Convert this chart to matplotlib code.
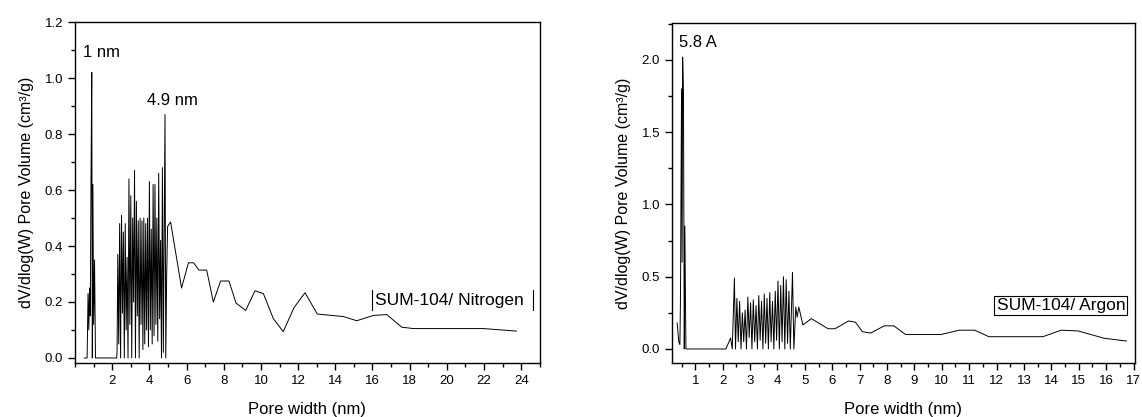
import matplotlib
matplotlib.use("Agg")
import matplotlib.pyplot as plt
from matplotlib.ticker import MultipleLocator, FixedLocator

plt.rcParams["font.family"] = ["Liberation Sans", "DejaVu Sans"]

# nitrogen curve (pore width nm, dV/dlogW)
n2_x = [0.50, 0.65, 0.70, 0.74, 0.78, 0.82, 0.86, 0.90, 0.93, 0.96, 1.00, 1.05, 1.10,
        2.24, 2.26, 2.30, 2.35, 2.40, 2.45, 2.50, 2.55, 2.60, 2.65, 2.70, 2.75, 2.80,
        2.85, 2.90, 2.95, 3.00, 3.05, 3.10, 3.15, 3.20, 3.25, 3.30, 3.35, 3.40, 3.45,
        3.50, 3.55, 3.60, 3.65, 3.70, 3.75, 3.80, 3.85, 3.90, 3.95, 4.00, 4.05, 4.10,
        4.15, 4.20, 4.25, 4.30, 4.35, 4.40, 4.45, 4.50, 4.55, 4.60, 4.65, 4.70, 4.75,
        4.84, 4.88, 4.93, 4.98, 5.14, 5.73, 6.10, 6.38, 6.66, 7.08, 7.44, 7.83, 8.28,
        8.66, 9.18, 9.68, 10.13, 10.67, 11.20, 11.78, 12.37, 13.03, 14.43, 15.15,
        16.05, 16.77, 17.57, 18.20, 21.97, 23.74]
n2_y = [0.00, 0.00, 0.23, 0.10, 0.25, 0.15, 0.64, 1.02, 0.00, 0.62, 0.12, 0.35, 0.00,
        0.00, 0.02, 0.37, 0.05, 0.48, 0.00, 0.51, 0.16, 0.45, 0.00, 0.48, 0.10, 0.36,
        0.00, 0.64, 0.12, 0.58, 0.00, 0.50, 0.20, 0.67, 0.00, 0.56, 0.15, 0.49, 0.00,
        0.50, 0.12, 0.49, 0.03, 0.50, 0.05, 0.48, 0.10, 0.50, 0.04, 0.63, 0.10, 0.46,
        0.05, 0.62, 0.08, 0.62, 0.12, 0.50, 0.06, 0.66, 0.14, 0.42, 0.00, 0.68, 0.02,
        0.87, 0.00, 0.30, 0.47, 0.486, 0.25, 0.34, 0.34, 0.314, 0.314, 0.20, 0.275, 0.275,
        0.196, 0.17, 0.24, 0.23, 0.14, 0.094, 0.18, 0.233, 0.157, 0.148, 0.133,
        0.152, 0.155, 0.11, 0.105, 0.105, 0.096]

# argon curve
ar_x = [0.34, 0.40, 0.44, 0.46, 0.50, 0.52, 0.54, 0.57, 0.60, 0.62, 0.66, 2.12, 2.29,
        2.35, 2.40, 2.43, 2.47, 2.52, 2.57, 2.62, 2.67, 2.72, 2.77, 2.82, 2.87, 2.92,
        2.97, 3.02, 3.07, 3.12, 3.17, 3.22, 3.27, 3.32, 3.37, 3.42, 3.47, 3.52, 3.57,
        3.62, 3.67, 3.72, 3.77, 3.82, 3.87, 3.92, 3.97, 4.02, 4.07, 4.12, 4.17, 4.22,
        4.27, 4.32, 4.37, 4.42, 4.47, 4.55, 4.60, 4.67, 4.72, 4.78, 4.93, 5.24, 5.85,
        6.10, 6.60, 6.85, 7.10, 7.40, 7.90, 8.25, 8.68, 9.05, 9.97, 10.64, 11.20,
        11.72, 13.69, 14.36, 14.97, 15.93, 16.74]
ar_y = [0.18, 0.05, 0.03, 0.33, 1.80, 0.60, 2.02, 1.77, 0.00, 0.85, 0.00, 0.00, 0.076,
        0.00, 0.30, 0.49, 0.00, 0.35, 0.05, 0.33, 0.00, 0.25, 0.05, 0.27, 0.00, 0.36,
        0.08, 0.32, 0.00, 0.34, 0.05, 0.30, 0.00, 0.37, 0.06, 0.33, 0.00, 0.38, 0.04,
        0.35, 0.00, 0.39, 0.05, 0.33, 0.00, 0.40, 0.06, 0.47, 0.00, 0.44, 0.05, 0.50,
        0.00, 0.48, 0.04, 0.40, 0.00, 0.53, 0.00, 0.29, 0.22, 0.29, 0.166, 0.21, 0.14,
        0.14, 0.194, 0.185, 0.12, 0.11, 0.16, 0.16, 0.10, 0.10, 0.10, 0.13, 0.13,
        0.085, 0.085, 0.13, 0.125, 0.074, 0.055]

n2_ticks = [2, 4, 6, 8, 10, 12, 14, 16, 18, 20, 22, 24]
ar_ticks = list(range(1, 18))

ylabel = "dV/dlog(W) Pore Volume (cm\u00b3/g)"
xlabel = "Pore width (nm)"

fig = plt.figure(figsize=(11.42, 4.17), dpi=100)
ax1 = fig.add_axes([0.0657, 0.1295, 0.407, 0.8175])
ax2 = fig.add_axes([0.5884, 0.1295, 0.4054, 0.8155])

for ax in (ax1, ax2):
    for s in ax.spines.values():
        s.set_linewidth(1.0)
    ax.tick_params(which="major", direction="out", length=5, width=1, labelsize=9.5,
                   top=False, right=False)
    ax.tick_params(which="minor", direction="out", length=3, width=1,
                   top=False, right=False)
    ax.set_xlabel(xlabel, fontsize=12, labelpad=11)
    ax.set_ylabel(ylabel, fontsize=11.5, labelpad=8)

# left panel: nitrogen
ax1.plot(n2_x, n2_y, color="black", linewidth=0.7)
ax1.set_xlim(0, 25)
ax1.set_ylim(-0.018, 1.2)
ax1.xaxis.set_major_locator(FixedLocator(n2_ticks))
ax1.xaxis.set_minor_locator(MultipleLocator(1))
ax1.yaxis.set_major_locator(MultipleLocator(0.2))
ax1.yaxis.set_minor_locator(MultipleLocator(0.1))
ax1.set_yticklabels([f"{v:.1f}" for v in ax1.get_yticks()])
ax1.text(0.43, 1.09, "1 nm", fontsize=12, va="center")
ax1.text(3.87, 0.92, "4.9 nm", fontsize=12, va="center")
ax1.text(16.15, 0.205, "SUM-104/ Nitrogen", fontsize=12.5, va="center")
ax1.plot([16.0, 16.0], [0.171, 0.243], color="black", linewidth=0.8)
ax1.plot([24.65, 24.65], [0.171, 0.243], color="black", linewidth=0.8)

# right panel: argon
ax2.plot(ar_x, ar_y, color="black", linewidth=0.7)
ax2.set_xlim(0.15, 17.05)
ax2.set_ylim(-0.097, 2.256)
ax2.xaxis.set_major_locator(FixedLocator(ar_ticks))
ax2.xaxis.set_minor_locator(FixedLocator([t - 0.5 for t in ar_ticks]))
ax2.yaxis.set_major_locator(MultipleLocator(0.5))
ax2.yaxis.set_minor_locator(MultipleLocator(0.25))
ax2.set_yticklabels([f"{v:.1f}" for v in ax2.get_yticks()])
ax2.text(0.4, 2.12, "5.8 A", fontsize=12, va="center")
ax2.text(12.0, 0.30, "SUM-104/ Argon", fontsize=12.5, va="center",
         bbox=dict(boxstyle="square,pad=0.12", facecolor="white", edgecolor="black",
                   linewidth=0.8))

fig.savefig("out.png", dpi=100)
